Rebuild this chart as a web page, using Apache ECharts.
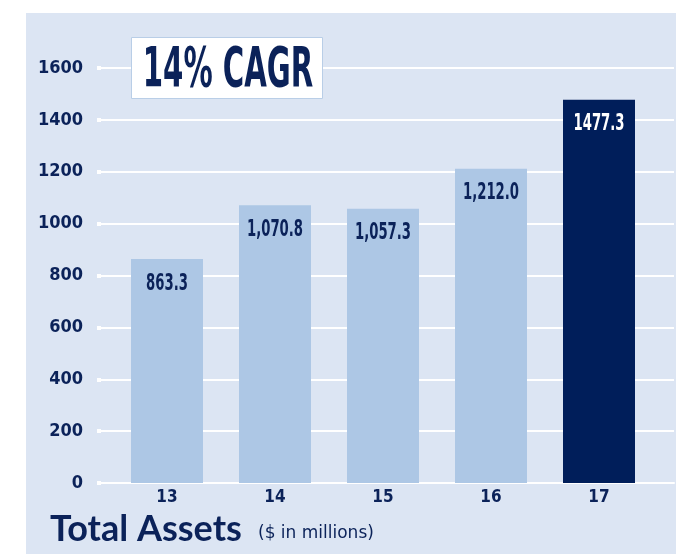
<!DOCTYPE html>
<html>
<head>
<meta charset="utf-8">
<script src="https://cdn.jsdelivr.net/npm/echarts@6/dist/echarts.min.js"></script>
<style>
  html,body{margin:0;padding:0;background:#fff;}
  #main{width:676px;height:554px;}
</style>
</head>
<body>
<div id="main"></div>
<script>
"use strict";

// fiscal years (20xx)
var years = ['13', '14', '15', '16', '17'];
// total assets, $ in millions
var assets = [863.3, 1070.8, 1057.3, 1212.0, 1477.3];
// labels as printed on the bars
var assetLabels = ['863.3', '1,070.8', '1,057.3', '1,212.0', '1477.3'];
var yTicks = [0, 200, 400, 600, 800, 1000, 1200, 1400, 1600];

var NAVY = '#0b2259';
var DARK = '#001e5a';
var LIGHT = '#adc7e5';
var PANEL = '#dce5f3';
var COND = '"DejaVu Sans Condensed", "DejaVu Sans", sans-serif';

var chart = echarts.init(document.getElementById('main'), null, {renderer: 'canvas'});

var lastIdx = assets.length - 1;
var barData = assets.map(function(v, i){
  return {value: v, itemStyle: {color: i === lastIdx ? DARK : LIGHT}};
});
var labelData = assets.map(function(v, i){ return [i, v]; });

// bar value labels, squeezed horizontally like the condensed face in the original
function renderLabel(params, api){
  var i = api.value(0);
  var p = api.coord([i, api.value(1)]);
  return {
    type: 'text',
    x: p[0], y: p[1] + 13,
    scaleX: 0.64,
    style: {
      text: assetLabels[i],
      fill: i === lastIdx ? '#ffffff' : NAVY,
      font: 'bold 23px ' + COND,
      textAlign: 'center', textVerticalAlign: 'top'
    }
  };
}

var option = {
  backgroundColor: '#ffffff',
  animation: false,
  grid: [
    {left: 101, right: 2, top: 68, bottom: 71},
    {left: 113, right: 23, top: 68, bottom: 71}
  ],
  xAxis: [
    {
      gridIndex: 0, type: 'value', min: 0, max: 1,
      axisLine: {show: true, lineStyle: {color: '#ffffff', width: 2}},
      axisTick: {show: false}, axisLabel: {show: false}, splitLine: {show: false}
    },
    {
      gridIndex: 1, type: 'category', data: years,
      axisLine: {show: false}, axisTick: {show: false},
      axisLabel: {
        margin: 6, color: NAVY, fontSize: 17, fontWeight: 'bold', fontFamily: COND
      }
    }
  ],
  yAxis: [
    {
      gridIndex: 0, type: 'value', min: yTicks[0], max: yTicks[yTicks.length - 1], interval: 200,
      axisLine: {show: false},
      axisTick: {show: true, length: 4, lineStyle: {color: '#ffffff', width: 4}},
      axisLabel: {
        margin: 18, color: NAVY, fontSize: 18, fontWeight: 'bold', fontFamily: COND,
        padding: [0, 0, 10, 0],
        formatter: function(v){ return String(v); }
      },
      splitLine: {lineStyle: {color: '#ffffff', width: 2}}
    },
    {
      gridIndex: 1, type: 'value', min: 0, max: 1600, show: false,
      splitLine: {show: false}
    }
  ],
  graphic: [
    {
      type: 'rect', z: -10, silent: true,
      shape: {x: 26, y: 13, width: 650, height: 541},
      style: {fill: PANEL}
    },
    {
      type: 'rect', z: 100,
      shape: {x: 131.5, y: 37.5, width: 191, height: 61},
      style: {fill: '#ffffff', stroke: '#b9cee7', lineWidth: 1}
    },
    {
      type: 'text', z: 101, x: 228, y: 72, scaleX: 0.59,
      style: {
        text: '14% CAGR', fill: NAVY, font: 'bold 55px ' + COND,
        textAlign: 'center', textVerticalAlign: 'middle'
      }
    },
    {
      type: 'text', z: 101, left: 50, top: 511,
      style: {
        text: 'Total Assets', fill: NAVY, font: 'bold 36px Lato, "Open Sans", sans-serif'
      }
    },
    {
      type: 'text', z: 101, left: 258, top: 525,
      style: {
        text: '($ in millions)', fill: NAVY, font: '17px "DejaVu Sans", sans-serif'
      }
    }
  ],
  series: [
    {
      type: 'bar', xAxisIndex: 1, yAxisIndex: 1,
      barWidth: 72,
      data: barData
    },
    {
      type: 'custom', xAxisIndex: 1, yAxisIndex: 1, z: 5,
      renderItem: renderLabel,
      data: labelData
    }
  ]
};

chart.setOption(option);
</script>
</body>
</html>
